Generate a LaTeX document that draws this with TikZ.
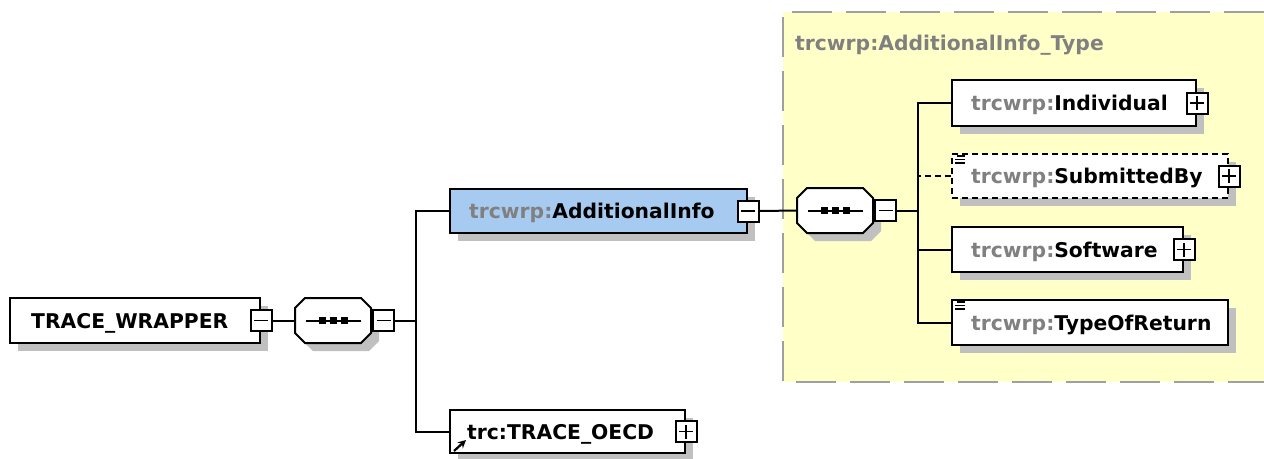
\documentclass[tikz,border=0pt]{standalone}
\usepackage{fontspec}
\setmainfont{DejaVu Sans}
\usetikzlibrary{shadows,arrows.meta}
\definecolor{shadowgray}{HTML}{C0C0C0}
\definecolor{pfx}{HTML}{808080}
\definecolor{bluefill}{HTML}{A6CAF0}
\definecolor{yellowbg}{HTML}{FFFFC8}
\definecolor{bordergray}{HTML}{A0A0A0}
\begin{document}
\begin{tikzpicture}[x=1pt,y=-1pt,
  elem/.style={draw=black,line width=2pt,fill=white,inner sep=0pt,
    drop shadow={shadow xshift=8pt,shadow yshift=-8pt,fill=shadowgray,opacity=1}},
  pmbox/.style={draw=black,line width=2pt,fill=white,minimum size=21pt,inner sep=0pt},
  minusbox/.style={pmbox,path picture={\draw[line width=1.8pt]
      ([xshift=-7pt]path picture bounding box.center)--([xshift=7pt]path picture bounding box.center);}},
  plusbox/.style={pmbox,path picture={\draw[line width=1.8pt]
      ([xshift=-7pt]path picture bounding box.center)--([xshift=7pt]path picture bounding box.center)
      ([yshift=-7pt]path picture bounding box.center)--([yshift=7pt]path picture bounding box.center);}},
  conn/.style={line width=2pt},
  lbl/.style={anchor=base west,inner sep=0pt,font=\bfseries\fontsize{20.3}{24}\selectfont},
  ttl/.style={lbl,text=pfx},
  typeborder/.style={draw=bordergray,line width=2.4pt,dash pattern=on 40pt off 14pt},
  icon/.style={line width=1.6pt},
  seqpic/.pic={
    \fill[shadowgray,shift={(8,8)}] (-28,-22.5) -- (28,-22.5) -- (38,-12.5) -- (38,12.5) -- (28,22.5) -- (-28,22.5) -- (-38,12.5) -- (-38,-12.5) -- cycle;
    \draw[line width=2pt,fill=white] (-28,-22.5) -- (28,-22.5) -- (38,-12.5) -- (38,12.5) -- (28,22.5) -- (-28,22.5) -- (-38,12.5) -- (-38,-12.5) -- cycle;
    \draw[line width=2pt] (-27,0) -- (28,0);
    \foreach \q in {-11,0,11} {\fill (\q-3.5,-3.5) rectangle (\q+3.5,3.5);}
    \coordinate (-w) at (-38,0);
    \coordinate (-e) at (38,0);
  }
]
\useasboundingbox (0,0) rectangle (1264,458);

% type container
\fill[yellowbg] (783,12) rectangle (1264,382);
\draw[typeborder] (1264,12) -- (783,12) -- (783,382) -- (1264,382);
\node[ttl] (ttl) at (795,50) {trcwrp:AdditionalInfo\_Type};

% root
\node[elem,minimum width=250pt,minimum height=45pt] (tw) at (135,320.5) {};
\node[lbl] (twt) at ([xshift=22pt,yshift=-7.5pt]tw.west) {TRACE\_WRAPPER};
\node[minusbox] (twm) at (tw.east) {};

\pic (s1) at (333,320.5) {seqpic};
\node[minusbox,anchor=west] (s1m) at ([xshift=1pt]s1-e) {};
\coordinate (bus1) at (416,320.5);

% AdditionalInfo
\node[elem,fill=bluefill,minimum width=297pt,minimum height=44pt] (ai) at (598.5,211) {};
\node[lbl] (ait) at ([xshift=20pt,yshift=-7.5pt]ai.west) {{\color{pfx}trcwrp:}AdditionalInfo};
\node[minusbox] (aim) at (ai.east) {};

% TRACE_OECD
\node[elem,minimum width=235pt,minimum height=43pt] (to) at (567.5,431.5) {};
\node[lbl] (tot) at ([xshift=18pt,yshift=-7.5pt]to.west) {trc:TRACE\_OECD};
\node[plusbox] (top) at (to.east) {};
\draw[line width=2.2pt,-{Stealth[length=8pt,width=8pt]}] ([xshift=5pt,yshift=3pt]to.south west) -- ++(12,-11);

\draw[conn] (twm.east) -- (s1-w);
\draw[conn] (s1m.east) -- (bus1);
\draw[conn] (ai.west) -| (bus1) |- (to.west);

% second sequence
\pic (s2) at (835,210.5) {seqpic};
\node[minusbox,anchor=west] (s2m) at ([xshift=1pt]s2-e) {};
\coordinate (bus2) at (918,210.5);
\draw[conn] (aim.east) -- (s2-w);
\draw[conn] (s2m.east) -- (bus2);

% children
\node[elem,minimum width=244pt,minimum height=46pt] (ind) at (1074,103) {};
\node[lbl] (indt) at ([xshift=20pt,yshift=-7.5pt]ind.west) {{\color{pfx}trcwrp:}Individual};
\node[plusbox] (indp) at (ind.east) {};

\node[elem,dash pattern=on 6pt off 4pt,minimum width=276pt,minimum height=44pt] (sub) at (1090,176) {};
\node[lbl] (subt) at ([xshift=20pt,yshift=-7.5pt]sub.west) {{\color{pfx}trcwrp:}SubmittedBy};
\node[plusbox] (subp) at (sub.east) {};
\draw[icon] ([xshift=6pt,yshift=-3pt]sub.north west) -- ++(8,0)
            ([xshift=4pt,yshift=-6.5pt]sub.north west) -- ++(10,0)
            ([xshift=4pt,yshift=-10pt]sub.north west) -- ++(10,0);

\node[elem,minimum width=231pt,minimum height=45pt] (sw) at (1067.5,249.5) {};
\node[lbl] (swt) at ([xshift=20pt,yshift=-7.5pt]sw.west) {{\color{pfx}trcwrp:}Software};
\node[plusbox] (swp) at (sw.east) {};

\node[elem,minimum width=276pt,minimum height=45pt] (tor) at (1090,322.5) {};
\node[lbl] (tort) at ([xshift=20pt,yshift=-7.5pt]tor.west) {{\color{pfx}trcwrp:}TypeOfReturn};
\draw[icon] ([xshift=6pt,yshift=-3pt]tor.north west) -- ++(8,0)
            ([xshift=4pt,yshift=-6.5pt]tor.north west) -- ++(10,0)
            ([xshift=4pt,yshift=-10pt]tor.north west) -- ++(10,0);

\draw[conn] (ind.west) -| (bus2) |- (tor.west);
\draw[conn] (sw.west) -| (bus2);
\draw[conn,dash pattern=on 6pt off 4pt] (sub.west) -- (sub.west -| bus2);
\end{tikzpicture}
\end{document}
